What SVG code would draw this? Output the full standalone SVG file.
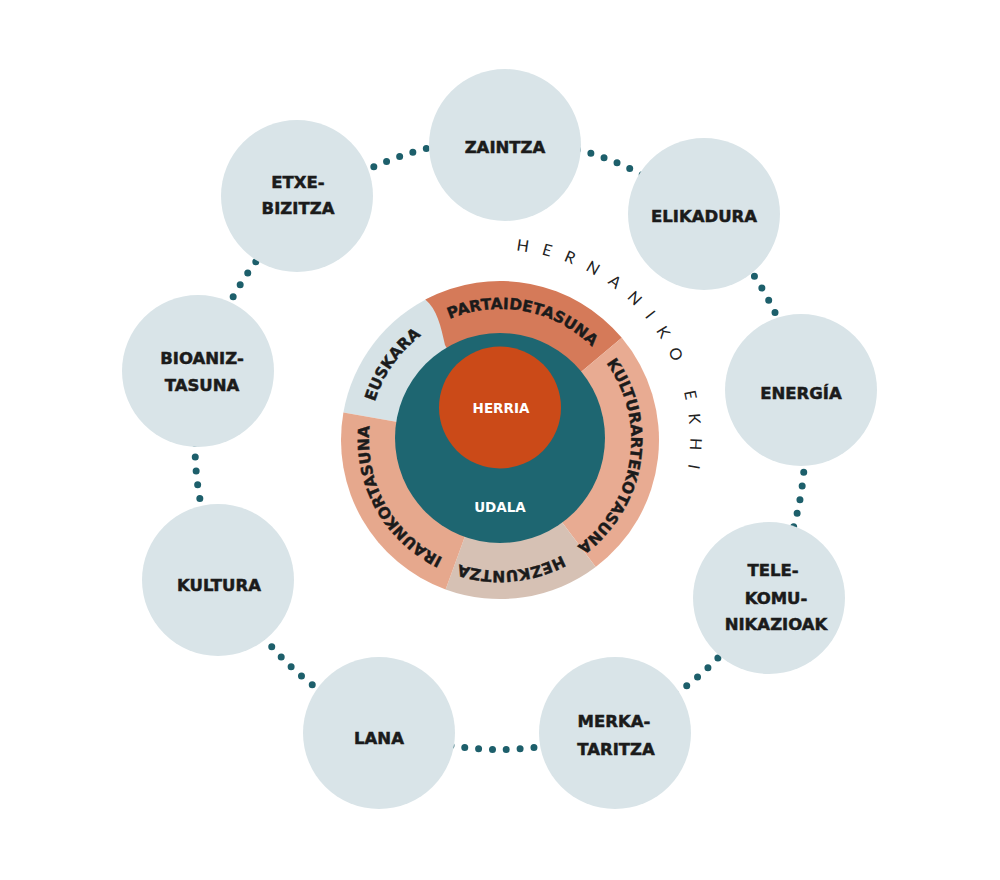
<svg xmlns="http://www.w3.org/2000/svg" width="1000" height="880" viewBox="0 0 1000 880">
<style>
.node{fill:#d9e4e8}
.lbl{font-family:"DejaVu Sans","Liberation Sans",sans-serif;font-weight:bold;font-size:16.5px;fill:#1b1b1b;stroke:#1b1b1b;stroke-width:0.5px;text-anchor:middle}
.ring{font-family:"DejaVu Sans","Liberation Sans",sans-serif;font-weight:bold;font-size:15.5px;fill:#1b1b1b;stroke:#1b1b1b;stroke-width:0.4px}
.inner{font-family:"DejaVu Sans","Liberation Sans",sans-serif;font-weight:bold;font-size:13.5px;fill:#ffffff;text-anchor:middle}
.title{font-family:Lato,"Open Sans","DejaVu Sans",sans-serif;font-weight:400;font-size:16px;fill:#222222;letter-spacing:13.5px}
</style>
<defs>
<path id="pPart" d="M377.7,393.1 A131,131 0 0 1 631.0,442.3"/>
<path id="pKult" d="M542.7,316.1 A131,131 0 0 1 502.3,571.0"/>
<path id="pHez" d="M630.5,451.4 A131,131 0 0 1 373.5,473.9"/>
<path id="pIrau" d="M542.7,563.9 A131,131 0 0 1 417.6,338.2"/>
<path id="pEusk" d="M407.4,532.6 A131,131 0 0 1 555.4,321.3"/>
<path id="pTitle" d="M500,250 A190,190 0 0 1 664.5,535"/>
</defs>
<rect width="1000" height="880" fill="#ffffff"/>
<g id="connectors">
<circle cx="500" cy="444.5" r="305" fill="none" stroke="#1d5f6b" stroke-width="7" stroke-linecap="round" stroke-dasharray="0 13.9"/>
</g>
<g id="node-zaintza"><circle class="node" cx="505" cy="145" r="76"/><text class="lbl" x="505" y="153">ZAINTZA</text></g>
<g id="node-elikadura"><circle class="node" cx="704" cy="214" r="76"/><text class="lbl" x="704" y="222">ELIKADURA</text></g>
<g id="node-energia"><circle class="node" cx="801" cy="390" r="76"/><text class="lbl" x="801" y="399">ENERGÍA</text></g>
<g id="node-telekomunikazioak"><circle class="node" cx="769" cy="598" r="76"/><text class="lbl" x="773" y="576">TELE-</text><text class="lbl" x="776" y="604">KOMU-</text><text class="lbl" x="776" y="630">NIKAZIOAK</text></g>
<g id="node-merkataritza"><circle class="node" cx="615" cy="733" r="76"/><text class="lbl" x="614" y="727">MERKA-</text><text class="lbl" x="616" y="755">TARITZA</text></g>
<g id="node-lana"><circle class="node" cx="379" cy="733" r="76"/><text class="lbl" x="379" y="744">LANA</text></g>
<g id="node-kultura"><circle class="node" cx="218" cy="580" r="76"/><text class="lbl" x="219" y="591">KULTURA</text></g>
<g id="node-bioaniztasuna"><circle class="node" cx="198" cy="371" r="76"/><text class="lbl" x="202" y="364">BIOANIZ-</text><text class="lbl" x="202" y="391">TASUNA</text></g>
<g id="node-etxebizitza"><circle class="node" cx="297" cy="196" r="76"/><text class="lbl" x="298" y="188">ETXE-</text><text class="lbl" x="298" y="214">BIZITZA</text></g>
<g id="center-ring">
<path id="seg-euskara" d="M500,440 L343.4,412.4 A159,159 0 0 1 432.8,295.9 Z" fill="#d6e2e6"/>
<path id="seg-partaidetasuna" d="M500,440 L445,345 C441,327 437,309 425.3,299.6 A159,159 0 0 1 621.8,337.8 Z" fill="#d57a59"/>
<path id="seg-kulturartekotasuna" d="M500,440 L621.8,337.8 A159,159 0 0 1 595.7,567.0 Z" fill="#e8ab92"/>
<path id="seg-hezkuntza" d="M500,440 L595.7,567.0 A159,159 0 0 1 445.6,589.4 Z" fill="#d6c1b4"/>
<path id="seg-iraunkortasuna" d="M500,440 L445.6,589.4 A159,159 0 0 1 343.4,412.4 Z" fill="#e6a88d"/>
<text class="ring"><textPath href="#pPart" startOffset="50%" text-anchor="middle">PARTAIDETASUNA</textPath></text>
<text class="ring"><textPath href="#pKult" startOffset="50%" text-anchor="middle">KULTURARTEKOTASUNA</textPath></text>
<text class="ring"><textPath href="#pHez" startOffset="50%" text-anchor="middle">HEZKUNTZA</textPath></text>
<text class="ring"><textPath href="#pIrau" startOffset="50%" text-anchor="middle">IRAUNKORTASUNA</textPath></text>
<text class="ring"><textPath href="#pEusk" startOffset="50%" text-anchor="middle">EUSKARA</textPath></text>
</g>
<g id="node-udala"><circle cx="500" cy="438" r="105" fill="#1e6671"/><text class="inner" x="500" y="512">UDALA</text></g>
<g id="node-herria"><circle cx="500" cy="407.5" r="61" fill="#cb4a18"/><text class="inner" x="501" y="413">HERRIA</text></g>
<g id="title">
<text class="title"><textPath href="#pTitle" startOffset="16">HERNANIKO EKHI</textPath></text>
</g>
</svg>
